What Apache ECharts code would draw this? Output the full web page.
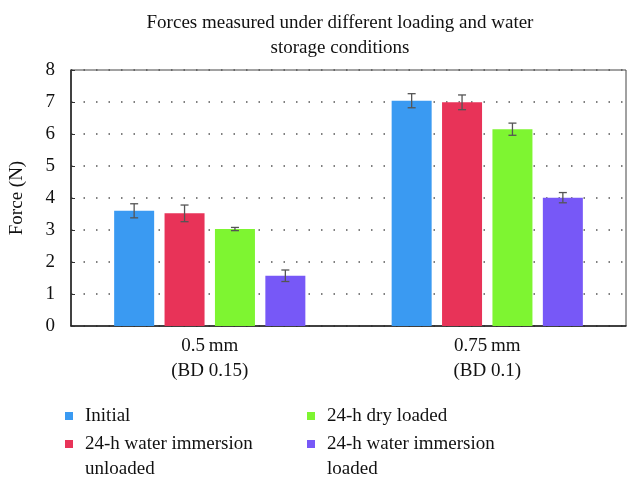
<!DOCTYPE html>
<html><head><meta charset="utf-8">
<script src="https://cdn.jsdelivr.net/npm/echarts@6/dist/echarts.min.js"></script>
<style>html,body{margin:0;padding:0;background:#fff}#c{width:640px;height:490px}</style>
</head><body><div id="c"></div>
<script>
const categories = ['0.5\u2009mm\n(BD 0.15)', '0.75\u2009mm\n(BD 0.1)'];
const seriesNames = ['Initial', '24-h water immersion unloaded', '24-h dry loaded', '24-h water immersion loaded'];
const initial = [3.60, 7.04];
const waterUnloaded = [3.52, 6.99];
const dryLoaded = [3.03, 6.15];
const waterLoaded = [1.57, 4.01];
const errInitial = [0.22, 0.22];
const errWaterUnloaded = [0.26, 0.23];
const errDryLoaded = [0.05, 0.19];
const errWaterLoaded = [0.18, 0.16];
const yTicks = [0, 1, 2, 3, 4, 5, 6, 7, 8];
const colors = ['#3a9af2', '#e83358', '#7ef531', '#7758f7'];

const FONT = 'Liberation Serif';
const BAR_W = 40, GAP_RATIO = 0.26;
const values = [initial, waterUnloaded, dryLoaded, waterLoaded];
const errs = [errInitial, errWaterUnloaded, errDryLoaded, errWaterLoaded];

const errData = [];
values.forEach((vals, s) => vals.forEach((v, c) => errData.push([c, s, v - errs[s][c], v + errs[s][c]])));

const barSeries = seriesNames.map((n, i) => ({
  name: n, type: 'bar', data: values[i], barWidth: BAR_W, barGap: (GAP_RATIO * 100) + '%',
  itemStyle: { color: colors[i] }
}));

function legendItem(name, left, top, twoLine) {
  return {
    left: left, top: top, orient: 'vertical',
    icon: twoLine ? 'path://M0,0L8,0L8,8L0,8Z M0,33L8,33' : 'rect',
    itemWidth: 8, itemHeight: twoLine ? 33 : 8,
    selectedMode: false,
    data: [name],
    formatter: twoLine ? (n => n.replace(' unloaded', '\nunloaded').replace(' loaded', '\nloaded')) : undefined,
    textStyle: { fontFamily: FONT, fontSize: 19, color: '#111', lineHeight: 25, padding: [0, 0, 0, 7] }
  };
}

const chart = echarts.init(document.getElementById('c'), null, { renderer: 'canvas' });
chart.setOption({
  animation: false,
  title: {
    text: 'Forces measured under different loading and water\nstorage conditions',
    left: 335, textAlign: 'center', top: 6,
    textStyle: { fontFamily: FONT, fontSize: 19, fontWeight: 'normal', color: '#111', lineHeight: 25 }
  },
  legend: [
    legendItem(seriesNames[0], 60, 398.5, false),
    legendItem(seriesNames[1], 60, 426.5, true),
    legendItem(seriesNames[2], 302, 398.5, false),
    legendItem(seriesNames[3], 302, 426.5, true)
  ],
  grid: { left: 70, right: 14, top: 70, bottom: 164, show: true, borderColor: '#444', borderWidth: 1 },
  xAxis: {
    type: 'category', data: categories,
    axisLine: { lineStyle: { color: '#222', width: 1.5 } },
    axisTick: { show: false },
    axisLabel: { fontFamily: FONT, fontSize: 19, color: '#111', lineHeight: 25, margin: 8 }
  },
  yAxis: {
    type: 'value', min: 0, max: 8, interval: 1,
    name: 'Force (N)', nameLocation: 'middle', nameGap: 44,
    nameTextStyle: { fontFamily: FONT, fontSize: 19, color: '#111' },
    axisLine: { show: true, lineStyle: { color: '#222', width: 1.5 } },
    axisTick: { show: true, inside: true, length: 4, lineStyle: { color: '#333' } },
    axisLabel: { fontFamily: FONT, fontSize: 19, color: '#111', margin: 16,
      formatter: v => yTicks.includes(v) ? String(v) : '' },
    splitLine: { show: true, lineStyle: { color: '#555', width: 1.5, type: [1.5, 11] } }
  },
  series: barSeries.concat([{
    type: 'custom', name: 'err', data: errData, z: 5,
    renderItem: function (params, api) {
      const c = api.value(0), s = api.value(1);
      const step = BAR_W * (1 + GAP_RATIO);
      const off = (s - 1.5) * step;
      const lo = api.coord([c, api.value(2)]);
      const hi = api.coord([c, api.value(3)]);
      const x = lo[0] + off, cap = 4;
      const st = { stroke: '#555', lineWidth: 1.3 };
      return { type: 'group', children: [
        { type: 'line', shape: { x1: x, y1: lo[1], x2: x, y2: hi[1] }, style: st },
        { type: 'line', shape: { x1: x - cap, y1: lo[1], x2: x + cap, y2: lo[1] }, style: st },
        { type: 'line', shape: { x1: x - cap, y1: hi[1], x2: x + cap, y2: hi[1] }, style: st }
      ]};
    }
  }])
});
</script></body></html>
